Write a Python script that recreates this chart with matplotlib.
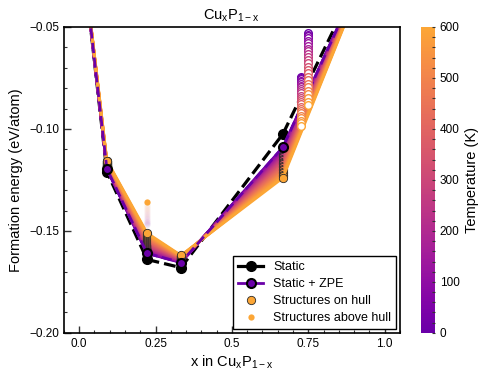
import matplotlib
matplotlib.use('Agg')
import matplotlib.pyplot as plt
from matplotlib.colors import LinearSegmentedColormap, Normalize
from matplotlib.cm import ScalarMappable
from matplotlib.lines import Line2D
from matplotlib.ticker import MultipleLocator

plt.rcParams['font.family'] = ['Liberation Sans', 'DejaVu Sans']
plt.rcParams['mathtext.default'] = 'regular'

# ---------------- data ----------------
temperatures = [0, 25, 50, 75, 100, 125, 150, 175, 200, 225, 250, 275, 300,
                325, 350, 375, 400, 425, 450, 475, 500, 525, 550, 575, 600]

hull_x = [0.0, 0.0909, 0.2222, 0.3333, 0.6667, 1.0]
static_E = [0.0, -0.121, -0.164, -0.168, -0.1025, 0.0]
zpe_E = [0.0, -0.1195, -0.161, -0.1655, -0.109, 0.0]

# free energies of hull structures vs temperature
e_cup10 = [-0.1195, -0.1194, -0.1193, -0.1192, -0.1191, -0.1189, -0.1188, -0.1186,
           -0.1185, -0.1183, -0.1182, -0.1180, -0.1178, -0.1176, -0.1175, -0.1173,
           -0.1171, -0.1169, -0.1167, -0.1165, -0.1163, -0.1161, -0.1159, -0.1157, -0.1155]
e_cu2p7 = [-0.1610, -0.1608, -0.1606, -0.1603, -0.1599, -0.1596, -0.1592, -0.1589,
           -0.1585, -0.1581, -0.1577, -0.1572, -0.1568, -0.1564, -0.1559, -0.1554,
           -0.1550, -0.1545, -0.1540, -0.1535, -0.1530, -0.1525, -0.1520, -0.1515, -0.1510]
e_cup2 = [-0.1655, -0.1654, -0.1653, -0.1652, -0.1651, -0.1650, -0.1649, -0.1648,
          -0.1646, -0.1645, -0.1643, -0.1642, -0.1640, -0.1639, -0.1637, -0.1636,
          -0.1634, -0.1632, -0.1631, -0.1629, -0.1627, -0.1625, -0.1624, -0.1622, -0.1620]
e_cu2p = [-0.1090, -0.1093, -0.1097, -0.1101, -0.1106, -0.1111, -0.1117, -0.1122,
          -0.1128, -0.1134, -0.1140, -0.1147, -0.1153, -0.1160, -0.1166, -0.1173,
          -0.1180, -0.1187, -0.1195, -0.1202, -0.1209, -0.1217, -0.1225, -0.1232, -0.1240]

# structures above hull
above_x_cu2p7 = 0.2222
above_cu2p7 = [-0.1470, -0.1468, -0.1465, -0.1462, -0.1458, -0.1455, -0.1451, -0.1446,
               -0.1442, -0.1438, -0.1433, -0.1429, -0.1424, -0.1419, -0.1414, -0.1409,
               -0.1404, -0.1399, -0.1393, -0.1388, -0.1382, -0.1377, -0.1371, -0.1366, -0.1360]
above_x_cu8p3 = 0.7273
above_cu8p3 = [-0.0745, -0.0750, -0.0756, -0.0763, -0.0771, -0.0779, -0.0787, -0.0796,
               -0.0806, -0.0815, -0.0825, -0.0836, -0.0846, -0.0857, -0.0867, -0.0878,
               -0.0890, -0.0901, -0.0913, -0.0924, -0.0936, -0.0948, -0.0960, -0.0973, -0.0985]
above_x_cu3p = 0.75
above_cu3p = [-0.0530, -0.0537, -0.0546, -0.0556, -0.0568, -0.0580, -0.0593, -0.0606,
              -0.0620, -0.0634, -0.0649, -0.0664, -0.0679, -0.0695, -0.0711, -0.0727,
              -0.0744, -0.0761, -0.0778, -0.0795, -0.0813, -0.0830, -0.0848, -0.0867, -0.0885]

x_ticks = [0.0, 0.25, 0.5, 0.75, 1.0]
x_ticklabels = ['0.0', '0.25', '0.5', '0.75', '1.0']
y_ticks = [-0.20, -0.15, -0.10, -0.05]
cbar_ticks = [0, 100, 200, 300, 400, 500, 600]

# ---------------- style ----------------
plasma = plt.get_cmap('plasma')
cmap = LinearSegmentedColormap.from_list(
    'plasma_trunc', [plasma(0.2 + 0.6 * i / 255) for i in range(256)])
norm = Normalize(vmin=0, vmax=600)

fig = plt.figure(figsize=(4.89, 3.8), dpi=100)
ax = fig.add_axes([0.1305, 0.124, 0.6875, 0.805])

# static hull
ax.plot(hull_x, static_E, '--', color='k', lw=2.3, marker='o', ms=7,
        zorder=1)

# temperature-dependent hulls
for i, T in enumerate(temperatures):
    c = cmap(norm(T))
    E = [0.0, e_cup10[i], e_cu2p7[i], e_cup2[i], e_cu2p[i], 0.0]
    ax.plot(hull_x, E, '-', color=c, lw=2, marker='o', ms=6, mfc=c,
            mec='#2a2a2a', mew=0.6, zorder=2)

# static + ZPE
c0 = cmap(norm(0))
c600 = cmap(norm(600))
ax.plot(hull_x, zpe_E, '--', color=c0, lw=2, marker='o', ms=6.5, mfc=c0,
        mec='k', mew=1.5, zorder=4)

# above-hull structures
for i, T in enumerate(temperatures):
    c = cmap(norm(T))
    a = 1.0 if T == 600 else 0.035
    ax.plot([above_x_cu2p7], [above_cu2p7[i]], 'o', ms=4.5, mfc=c, mec='none',
            alpha=a, zorder=3)
for i, T in enumerate(temperatures):
    c = cmap(norm(T))
    ax.plot([above_x_cu8p3], [above_cu8p3[i]], 'o', ms=5.5, mfc='white', mec=c,
            mew=1.0, zorder=5)
    ax.plot([above_x_cu3p], [above_cu3p[i]], 'o', ms=5.5, mfc='white', mec=c,
            mew=1.0, zorder=5)

ax.set_xlim(-0.05, 1.05)
ax.set_ylim(-0.20, -0.05)
ax.set_xticks(x_ticks)
ax.set_xticklabels(x_ticklabels)
ax.set_yticks(y_ticks)
ax.xaxis.set_minor_locator(MultipleLocator(0.05))
ax.yaxis.set_minor_locator(MultipleLocator(0.01))
ax.tick_params(which='both', direction='in', top=False, right=False,
               labelsize=8.5, color='#333333')
ax.tick_params(which='major', length=5, width=1)
ax.tick_params(which='minor', length=2.5, width=0.8)
for s in ax.spines.values():
    s.set_linewidth(1.2)

ax.set_title('Cu$_x$P$_{1-x}$', fontsize=10.5, pad=5)
ax.set_xlabel('x in Cu$_x$P$_{1-x}$', fontsize=10.5, labelpad=3)
ax.set_ylabel('Formation energy (eV/atom)', fontsize=10.5)

handles = [
    Line2D([], [], color='k', lw=2.3, marker='o', ms=7),
    Line2D([], [], color=c0, lw=2, marker='o', ms=6.5, mfc=c0, mec='k', mew=1.5),
    Line2D([], [], ls='none', marker='o', ms=6, mfc=c600, mec='#2a2a2a', mew=0.6),
    Line2D([], [], ls='none', marker='o', ms=4.5, mfc=c600, mec='none'),
]
labels = ['Static', 'Static + ZPE', 'Structures on hull', 'Structures above hull']
leg = ax.legend(handles, labels, loc='lower right', fontsize=9,
                fancybox=False, framealpha=1, edgecolor='k',
                borderaxespad=0.3, handlelength=2, labelspacing=0.4)
leg.get_frame().set_linewidth(1.0)
leg.set_zorder(10)

cax = fig.add_axes([0.860, 0.124, 0.029, 0.805])
sm = ScalarMappable(norm=norm, cmap=cmap)
cb = fig.colorbar(sm, cax=cax)
cb.outline.set_visible(False)
cb.set_ticks(cbar_ticks)
cax.yaxis.set_minor_locator(MultipleLocator(20))
cax.tick_params(which='both', direction='in', length=2.5, width=0.8,
                color='#333333', labelsize=8.5)
cb.set_label('Temperature (K)', fontsize=10.5)

fig.savefig('out.png', dpi=100)
